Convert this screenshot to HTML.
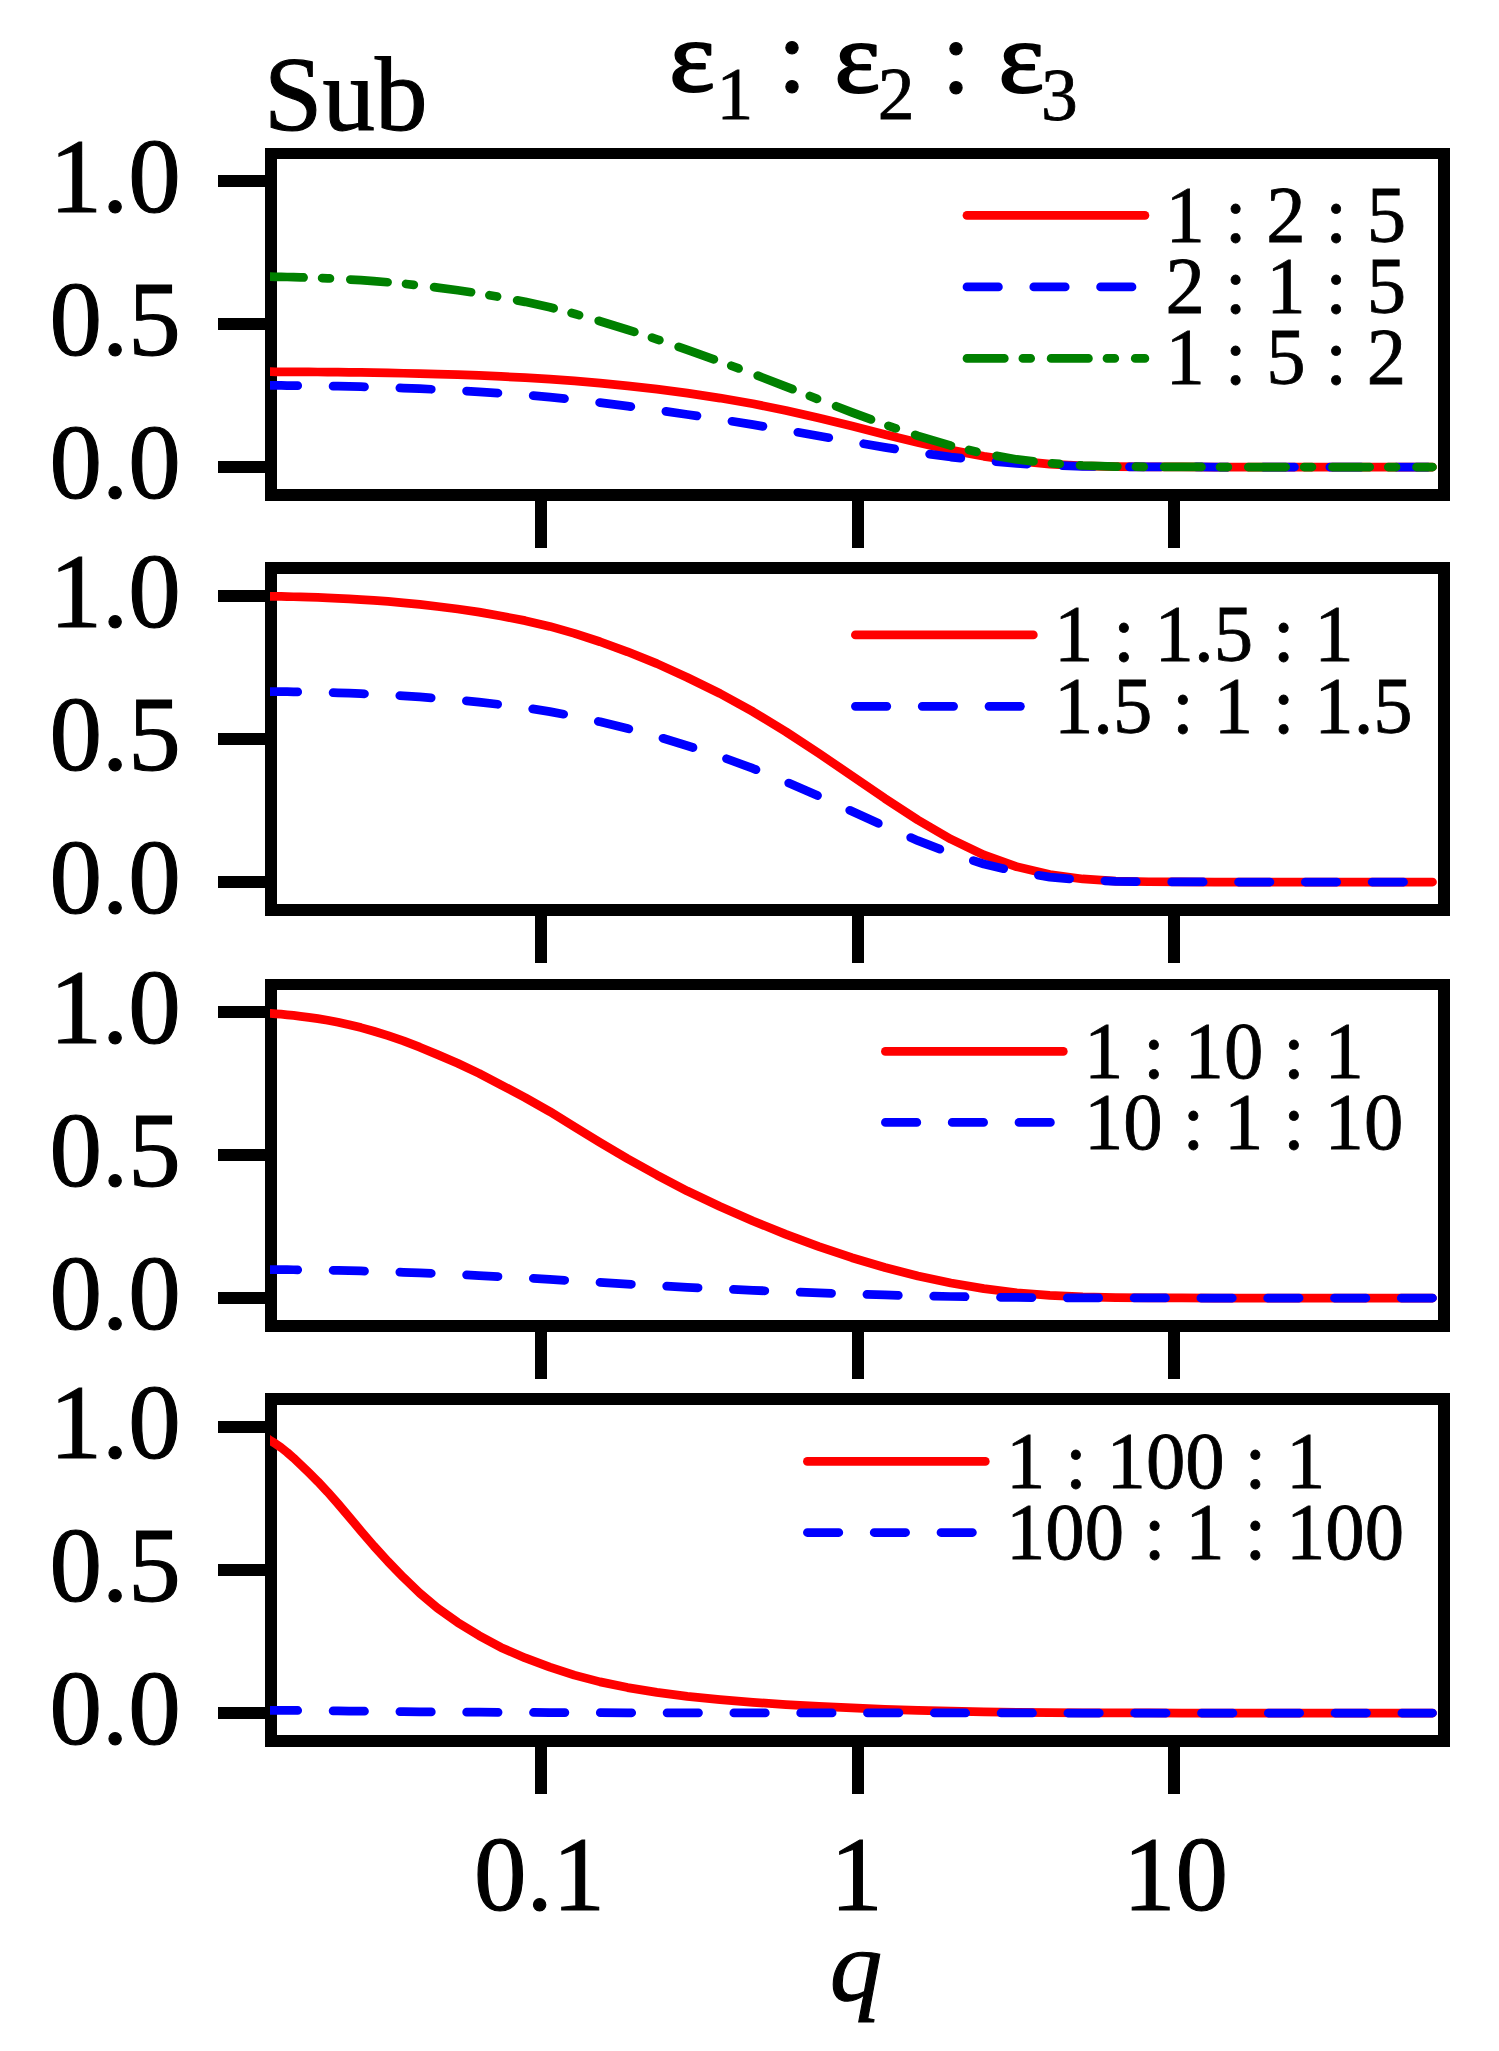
<!DOCTYPE html>
<html><head><meta charset="utf-8"><title>Sub</title>
<style>html,body{margin:0;padding:0;background:#fff}svg{display:block}text{font-family:"Liberation Serif","DejaVu Serif",serif;fill:#000}.t{font-size:105px;stroke:#000;stroke-width:1.1px}.l{font-size:78.75px;stroke:#000;stroke-width:0.8px}.s{font-size:73.5px;stroke:#000;stroke-width:0.8px}.e{font-size:101px;stroke:#000;stroke-width:2.1px;stroke-linejoin:round}</style></head><body>
<svg width="1499" height="2051" viewBox="0 0 1499 2051">
<rect width="1499" height="2051" fill="#fff"/>
<defs><clipPath id="c0"><rect x="270" y="153" width="1174" height="342"/></clipPath></defs>
<g fill="#000">
<rect x="265" y="148" width="1185" height="11"/>
<rect x="265" y="489" width="1185" height="12"/>
<rect x="265" y="148" width="12" height="353"/>
<rect x="1438" y="148" width="12" height="353"/>
<rect x="218" y="461" width="50" height="12"/>
<rect x="218" y="318" width="50" height="12"/>
<rect x="218" y="175" width="50" height="12"/>
<rect x="535" y="495" width="12" height="53"/>
<rect x="852" y="495" width="12" height="53"/>
<rect x="1168" y="495" width="12" height="53"/>
</g>
<text class="t" text-anchor="end" transform="translate(180.70 497.50) scale(1.0000 1.0120)" >0.0</text>
<text class="t" text-anchor="end" transform="translate(180.70 354.50) scale(1.0000 1.0120)" >0.5</text>
<text class="t" text-anchor="end" transform="translate(180.70 211.50) scale(1.0000 1.0120)" >1.0</text>
<g clip-path="url(#c0)" fill="none" stroke-width="8.75" stroke-linecap="round" stroke-linejoin="round">
<polyline points="266.30,371.72 266.43,371.72 270.63,371.74 275.64,371.76 281.14,371.78 287.12,371.81 293.52,371.84 300.53,371.88 308.63,371.94 317.82,372.00 327.55,372.09 337.99,372.19 349.09,372.32 360.89,372.48 373.83,372.68 388.06,372.94 403.42,373.25 419.73,373.64 437.54,374.13 457.64,374.74 479.04,375.49 500.91,376.43 525.13,377.60 549.80,379.05 574.34,380.85 600.05,383.07 627.57,385.80 656.90,389.14 687.31,393.19 719.98,398.05 752.96,403.79 785.94,410.43 818.92,417.90 851.90,426.01 884.88,434.41 917.87,442.61 950.85,450.08 983.83,456.30 1016.81,460.97 1049.79,464.06 1082.77,465.80 1115.75,466.61 1148.73,466.90 1181.71,466.98 1214.69,467.00 1247.67,467.00 1280.65,467.00 1313.63,467.00 1346.62,467.00 1379.60,467.00 1412.58,467.00 1432.50,467.00" stroke="#ff0000"/>
<polyline points="266.30,385.39 266.43,385.39 270.63,385.41 275.64,385.45 281.14,385.49 287.12,385.53 293.52,385.60 300.53,385.67 308.63,385.77 317.82,385.89 327.55,386.03 337.99,386.22 349.09,386.45 360.89,386.73 373.83,387.08 388.06,387.52 403.42,388.06 419.73,388.72 437.54,389.54 457.64,390.54 479.04,391.76 500.91,393.24 525.13,395.02 549.80,397.16 574.34,399.69 600.05,402.67 627.57,406.11 656.90,410.05 687.31,414.47 719.98,419.36 752.96,424.64 785.94,430.23 818.92,435.99 851.90,441.76 884.88,447.34 917.87,452.51 950.85,457.04 983.83,460.74 1016.81,463.48 1049.79,465.28 1082.77,466.30 1115.75,466.77 1148.73,466.94 1181.71,466.99 1214.69,467.00 1247.67,467.00 1280.65,467.00 1313.63,467.00 1346.62,467.00 1379.60,467.00 1412.58,467.00 1432.50,467.00" stroke="#0000ff" stroke-dasharray="31.4 35.4"/>
<polyline points="266.30,276.61 266.43,276.61 270.63,276.68 275.64,276.76 281.14,276.87 287.12,277.00 293.52,277.16 300.53,277.37 308.63,277.62 317.82,277.94 327.55,278.33 337.99,278.82 349.09,279.43 360.89,280.19 373.83,281.12 388.06,282.28 403.42,283.70 419.73,285.45 437.54,287.60 457.64,290.22 479.04,293.40 500.91,297.24 525.13,301.84 549.80,307.31 574.34,313.73 600.05,321.18 627.57,329.71 656.90,339.32 687.31,349.97 719.98,361.53 752.96,373.82 785.94,386.60 818.92,399.58 851.90,412.38 884.88,424.61 917.87,435.84 950.85,445.62 983.83,453.57 1016.81,459.46 1049.79,463.32 1082.77,465.50 1115.75,466.51 1148.73,466.88 1181.71,466.98 1214.69,467.00 1247.67,467.00 1280.65,467.00 1313.63,467.00 1346.62,467.00 1379.60,467.00 1412.58,467.00 1432.50,467.00" stroke="#008000" stroke-dasharray="37.3 18.58 7.76 20.48"/>
</g>
<line x1="967.00" y1="215.40" x2="1144.90" y2="215.40" stroke="#ff0000" stroke-width="8.75" stroke-linecap="round"/>
<text class="l" text-anchor="start" transform="translate(1165.60 241.70) scale(1.0000 1.0120)" >1 : 2 : 5</text>
<line x1="967.00" y1="286.90" x2="1144.90" y2="286.90" stroke="#0000ff" stroke-width="8.75" stroke-linecap="round" stroke-dasharray="31.4 35.4"/>
<text class="l" text-anchor="start" transform="translate(1165.60 312.65) scale(1.0000 1.0120)" >2 : 1 : 5</text>
<line x1="967.00" y1="358.40" x2="1144.90" y2="358.40" stroke="#008000" stroke-width="8.75" stroke-linecap="round" stroke-dasharray="37.3 18.58 7.76 20.48"/>
<text class="l" text-anchor="start" transform="translate(1165.60 384.30) scale(1.0000 1.0120)" >1 : 5 : 2</text>
<defs><clipPath id="c1"><rect x="270" y="568" width="1174" height="342"/></clipPath></defs>
<g fill="#000">
<rect x="265" y="562" width="1185" height="12"/>
<rect x="265" y="904" width="1185" height="12"/>
<rect x="265" y="562" width="12" height="354"/>
<rect x="1438" y="562" width="12" height="354"/>
<rect x="218" y="876" width="50" height="12"/>
<rect x="218" y="733" width="50" height="12"/>
<rect x="218" y="590" width="50" height="12"/>
<rect x="535" y="910" width="12" height="53"/>
<rect x="852" y="910" width="12" height="53"/>
<rect x="1168" y="910" width="12" height="53"/>
</g>
<text class="t" text-anchor="end" transform="translate(180.70 912.50) scale(1.0000 1.0120)" >0.0</text>
<text class="t" text-anchor="end" transform="translate(180.70 769.50) scale(1.0000 1.0120)" >0.5</text>
<text class="t" text-anchor="end" transform="translate(180.70 626.50) scale(1.0000 1.0120)" >1.0</text>
<g clip-path="url(#c1)" fill="none" stroke-width="8.75" stroke-linecap="round" stroke-linejoin="round">
<polyline points="266.30,596.25 266.43,596.25 270.63,596.31 275.64,596.39 281.14,596.48 287.12,596.60 293.52,596.75 300.53,596.94 308.63,597.17 317.82,597.46 327.55,597.81 337.99,598.26 349.09,598.82 360.89,599.51 373.83,600.38 388.06,601.45 403.42,602.78 419.73,604.43 437.54,606.48 457.64,609.01 479.04,612.13 500.91,615.96 525.13,620.66 549.80,626.39 574.34,633.35 600.05,641.74 627.57,651.77 656.90,663.64 687.31,677.53 719.98,693.54 752.96,711.65 785.94,731.72 818.92,753.34 851.90,775.90 884.88,798.48 917.87,819.97 950.85,839.17 983.83,854.99 1016.81,866.80 1049.79,874.58 1082.77,878.97 1115.75,881.01 1148.73,881.75 1181.71,881.96 1214.69,882.00 1247.67,882.00 1280.65,882.00 1313.63,882.00 1346.62,882.00 1379.60,882.00 1412.58,882.00 1432.50,882.00" stroke="#ff0000"/>
<polyline points="266.30,691.50 266.43,691.50 270.63,691.54 275.64,691.59 281.14,691.65 287.12,691.73 293.52,691.83 300.53,691.96 308.63,692.11 317.82,692.30 327.55,692.54 337.99,692.84 349.09,693.21 360.89,693.68 373.83,694.25 388.06,694.97 403.42,695.85 419.73,696.96 437.54,698.32 457.64,700.01 479.04,702.08 500.91,704.64 525.13,707.77 549.80,711.60 574.34,716.23 600.05,721.83 627.57,728.51 656.90,736.43 687.31,745.69 719.98,756.36 752.96,768.44 785.94,781.81 818.92,796.23 851.90,811.27 884.88,826.32 917.87,840.65 950.85,853.44 983.83,864.00 1016.81,871.87 1049.79,877.06 1082.77,879.98 1115.75,881.34 1148.73,881.84 1181.71,881.97 1214.69,882.00 1247.67,882.00 1280.65,882.00 1313.63,882.00 1346.62,882.00 1379.60,882.00 1412.58,882.00 1432.50,882.00" stroke="#0000ff" stroke-dasharray="31.4 35.4"/>
</g>
<line x1="855.40" y1="634.90" x2="1033.30" y2="634.90" stroke="#ff0000" stroke-width="8.75" stroke-linecap="round"/>
<text class="l" text-anchor="start" transform="translate(1054.00 660.70) scale(1.0000 1.0120)" >1 : 1.5 : 1</text>
<line x1="855.40" y1="706.30" x2="1033.30" y2="706.30" stroke="#0000ff" stroke-width="8.75" stroke-linecap="round" stroke-dasharray="31.4 35.4"/>
<text class="l" text-anchor="start" transform="translate(1054.00 732.80) scale(1.0000 1.0120)" >1.5 : 1 : 1.5</text>
<defs><clipPath id="c2"><rect x="270" y="984" width="1174" height="342"/></clipPath></defs>
<g fill="#000">
<rect x="265" y="979" width="1185" height="11"/>
<rect x="265" y="1320" width="1185" height="12"/>
<rect x="265" y="979" width="12" height="353"/>
<rect x="1438" y="979" width="12" height="353"/>
<rect x="218" y="1292" width="50" height="12"/>
<rect x="218" y="1149" width="50" height="12"/>
<rect x="218" y="1006" width="50" height="12"/>
<rect x="535" y="1326" width="12" height="53"/>
<rect x="852" y="1326" width="12" height="53"/>
<rect x="1168" y="1326" width="12" height="53"/>
</g>
<text class="t" text-anchor="end" transform="translate(180.70 1328.50) scale(1.0000 1.0120)" >0.0</text>
<text class="t" text-anchor="end" transform="translate(180.70 1185.50) scale(1.0000 1.0120)" >0.5</text>
<text class="t" text-anchor="end" transform="translate(180.70 1042.50) scale(1.0000 1.0120)" >1.0</text>
<g clip-path="url(#c2)" fill="none" stroke-width="8.75" stroke-linecap="round" stroke-linejoin="round">
<polyline points="266.30,1013.14 266.43,1013.15 270.63,1013.44 275.64,1013.79 281.14,1014.23 287.12,1014.78 293.52,1015.46 300.53,1016.30 308.63,1017.35 317.82,1018.65 327.55,1020.25 337.99,1022.22 349.09,1024.65 360.89,1027.61 373.83,1031.23 388.06,1035.61 403.42,1040.88 419.73,1047.17 437.54,1054.62 457.64,1063.33 479.04,1073.38 500.91,1084.81 525.13,1097.58 549.80,1111.60 574.34,1126.65 600.05,1142.47 627.57,1158.72 656.90,1175.03 687.31,1191.05 719.98,1206.44 752.96,1220.95 785.94,1234.39 818.92,1246.66 851.90,1257.70 884.88,1267.47 917.87,1275.93 950.85,1283.02 983.83,1288.64 1016.81,1292.76 1049.79,1295.45 1082.77,1296.96 1115.75,1297.66 1148.73,1297.92 1181.71,1297.99 1214.69,1298.00 1247.67,1298.00 1280.65,1298.00 1313.63,1298.00 1346.62,1298.00 1379.60,1298.00 1412.58,1298.00 1432.50,1298.00" stroke="#ff0000"/>
<polyline points="266.30,1269.51 266.43,1269.52 270.63,1269.54 275.64,1269.58 281.14,1269.62 287.12,1269.68 293.52,1269.75 300.53,1269.83 308.63,1269.94 317.82,1270.06 327.55,1270.22 337.99,1270.42 349.09,1270.66 360.89,1270.96 373.83,1271.32 388.06,1271.76 403.42,1272.29 419.73,1272.92 437.54,1273.66 457.64,1274.53 479.04,1275.54 500.91,1276.68 525.13,1277.96 549.80,1279.36 574.34,1280.86 600.05,1282.45 627.57,1284.07 656.90,1285.70 687.31,1287.30 719.98,1288.84 752.96,1290.30 785.94,1291.64 818.92,1292.87 851.90,1293.97 884.88,1294.95 917.87,1295.79 950.85,1296.50 983.83,1297.06 1016.81,1297.48 1049.79,1297.74 1082.77,1297.90 1115.75,1297.97 1148.73,1297.99 1181.71,1298.00 1214.69,1298.00 1247.67,1298.00 1280.65,1298.00 1313.63,1298.00 1346.62,1298.00 1379.60,1298.00 1412.58,1298.00 1432.50,1298.00" stroke="#0000ff" stroke-dasharray="31.4 35.4"/>
</g>
<line x1="885.40" y1="1051.40" x2="1063.30" y2="1051.40" stroke="#ff0000" stroke-width="8.75" stroke-linecap="round"/>
<text class="l" text-anchor="start" transform="translate(1084.00 1077.80) scale(1.0000 1.0120)" >1 : 10 : 1</text>
<line x1="885.40" y1="1122.40" x2="1063.30" y2="1122.40" stroke="#0000ff" stroke-width="8.75" stroke-linecap="round" stroke-dasharray="31.4 35.4"/>
<text class="l" text-anchor="start" transform="translate(1084.00 1148.80) scale(1.0000 1.0120)" >10 : 1 : 10</text>
<defs><clipPath id="c3"><rect x="270" y="1399" width="1174" height="342"/></clipPath></defs>
<g fill="#000">
<rect x="265" y="1393" width="1185" height="12"/>
<rect x="265" y="1735" width="1185" height="12"/>
<rect x="265" y="1393" width="12" height="354"/>
<rect x="1438" y="1393" width="12" height="354"/>
<rect x="218" y="1707" width="50" height="12"/>
<rect x="218" y="1564" width="50" height="12"/>
<rect x="218" y="1421" width="50" height="12"/>
<rect x="535" y="1741" width="12" height="53"/>
<rect x="852" y="1741" width="12" height="53"/>
<rect x="1168" y="1741" width="12" height="53"/>
</g>
<text class="t" text-anchor="end" transform="translate(180.70 1743.50) scale(1.0000 1.0120)" >0.0</text>
<text class="t" text-anchor="end" transform="translate(180.70 1600.50) scale(1.0000 1.0120)" >0.5</text>
<text class="t" text-anchor="end" transform="translate(180.70 1457.50) scale(1.0000 1.0120)" >1.0</text>
<g clip-path="url(#c3)" fill="none" stroke-width="8.75" stroke-linecap="round" stroke-linejoin="round">
<polyline points="266.30,1437.94 266.43,1438.02 270.63,1440.62 275.64,1443.80 281.14,1447.66 287.12,1452.33 293.52,1457.92 300.53,1464.58 308.63,1472.42 317.82,1481.53 327.55,1491.97 337.99,1503.75 349.09,1516.80 360.89,1530.97 373.83,1546.02 388.06,1561.63 403.42,1577.45 419.73,1593.09 437.54,1608.19 457.64,1622.42 479.04,1635.55 500.91,1647.43 525.13,1657.97 549.80,1667.18 574.34,1675.12 600.05,1681.87 627.57,1687.57 656.90,1692.34 687.31,1696.30 719.98,1699.59 752.96,1702.31 785.94,1704.56 818.92,1706.43 851.90,1707.98 884.88,1709.27 917.87,1710.34 950.85,1711.21 983.83,1711.89 1016.81,1712.38 1049.79,1712.70 1082.77,1712.88 1115.75,1712.96 1148.73,1712.99 1181.71,1713.00 1214.69,1713.00 1247.67,1713.00 1280.65,1713.00 1313.63,1713.00 1346.62,1713.00 1379.60,1713.00 1412.58,1713.00 1432.50,1713.00" stroke="#ff0000"/>
<polyline points="266.30,1710.25 266.43,1710.25 270.63,1710.28 275.64,1710.31 281.14,1710.35 287.12,1710.39 293.52,1710.45 300.53,1710.52 308.63,1710.59 317.82,1710.69 327.55,1710.79 337.99,1710.91 349.09,1711.04 360.89,1711.18 373.83,1711.33 388.06,1711.49 403.42,1711.64 419.73,1711.80 437.54,1711.95 457.64,1712.09 479.04,1712.23 500.91,1712.34 525.13,1712.45 549.80,1712.54 574.34,1712.62 600.05,1712.69 627.57,1712.75 656.90,1712.79 687.31,1712.83 719.98,1712.87 752.96,1712.89 785.94,1712.92 818.92,1712.93 851.90,1712.95 884.88,1712.96 917.87,1712.97 950.85,1712.98 983.83,1712.99 1016.81,1712.99 1049.79,1713.00 1082.77,1713.00 1115.75,1713.00 1148.73,1713.00 1181.71,1713.00 1214.69,1713.00 1247.67,1713.00 1280.65,1713.00 1313.63,1713.00 1346.62,1713.00 1379.60,1713.00 1412.58,1713.00 1432.50,1713.00" stroke="#0000ff" stroke-dasharray="31.4 35.4"/>
</g>
<line x1="807.40" y1="1461.40" x2="985.30" y2="1461.40" stroke="#ff0000" stroke-width="8.75" stroke-linecap="round"/>
<text class="l" text-anchor="start" transform="translate(1006.00 1488.00) scale(1.0000 1.0120)" >1 : 100 : 1</text>
<line x1="807.40" y1="1532.50" x2="985.30" y2="1532.50" stroke="#0000ff" stroke-width="8.75" stroke-linecap="round" stroke-dasharray="31.4 35.4"/>
<text class="l" text-anchor="start" transform="translate(1006.00 1559.00) scale(1.0000 1.0120)" >100 : 1 : 100</text>
<text class="t" text-anchor="middle" transform="translate(539.50 1909.60) scale(1.0000 1.0120)" >0.1</text>
<text class="t" text-anchor="middle" transform="translate(856.50 1909.60) scale(1.0000 1.0120)" >1</text>
<text class="t" text-anchor="middle" transform="translate(1175.50 1909.60) scale(1.0000 1.0120)" >10</text>
<text class="t" text-anchor="middle" transform="translate(856.00 2000.20) scale(1.0000 0.9650)" font-style="italic">q</text>
<text class="t" text-anchor="start" transform="translate(264.00 130.40) scale(1.0000 1.0120)" >Sub</text>
<text transform="translate(0 91.80)"><tspan class="e" x="669.30" dy="-0.6" textLength="45.60" lengthAdjust="spacingAndGlyphs">ε</tspan><tspan class="s" x="716.50" dy="27.6">1</tspan><tspan class="t" x="751.34" dy="-26.4"> : </tspan><tspan class="e" x="834.50" dy="-0.6" textLength="45.60" lengthAdjust="spacingAndGlyphs">ε</tspan><tspan class="s" x="877.80" dy="27.6">2</tspan><tspan class="t" x="915.14" dy="-26.4"> : </tspan><tspan class="e" x="998.60" dy="-0.6" textLength="45.60" lengthAdjust="spacingAndGlyphs">ε</tspan><tspan class="s" x="1041.00" dy="27.6">3</tspan></text>
</svg></body></html>
